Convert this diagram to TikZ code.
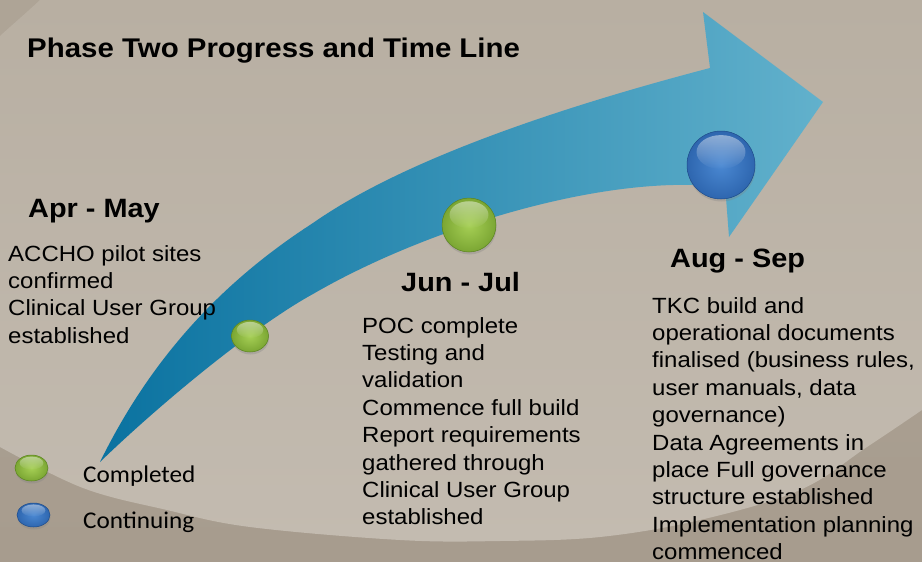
\documentclass[tikz,border=0pt]{standalone}
\usepackage{fontspec}
\setmainfont{Liberation Sans}[FakeStretch=1.09]
\newfontfamily\legendfont{Carlito}[FakeStretch=1.05]
\usetikzlibrary{shapes.geometric,shadows,fadings}
\definecolor{bgdark}{HTML}{A79C8E}
\definecolor{bgcorner}{HTML}{AEA496}
\definecolor{bgtop}{HTML}{B8AFA2}
\definecolor{bgbot}{HTML}{C3BBB0}
\definecolor{arrA}{HTML}{0A72A0}
\definecolor{arrB}{HTML}{3399C6}
\definecolor{arrC}{HTML}{62B1CC}
\definecolor{gIn}{HTML}{A6CF55}
\definecolor{gOut}{HTML}{7BA633}
\definecolor{gRim}{HTML}{5A8420}
\definecolor{bIn}{HTML}{4A88D2}
\definecolor{bOut}{HTML}{2E66AF}
\definecolor{bRim}{HTML}{1E4C8A}
\newcommand\glint[3]{\fill[white,fill opacity=0.45,path fading=south] ([yshift={0.38*#3}]#1.center) ellipse [x radius={0.72*#2}, y radius={0.5*#3}];}
\tikzset{
  ttl/.style={anchor=base west, inner sep=0pt, font=\fontsize{27}{32}\selectfont\bfseries},
  hdr/.style={anchor=base west, inner sep=0pt, font=\fontsize{26.5}{32}\selectfont\bfseries},
  body/.style={anchor=base west, inner sep=0pt, font=\fontsize{22}{27.4}\selectfont},
  lgd/.style={anchor=base west, inner sep=0pt, font=\legendfont\fontsize{24}{29}\selectfont},
  ballbase/.style={ellipse, inner sep=0pt, shading=radial, line width=0.5pt,
    drop shadow={opacity=0.3, shadow xshift=0.5pt, shadow yshift=-2.5pt}},
  greenball/.style={ballbase, inner color=gIn, outer color=gOut, draw=gRim},
  blueball/.style={ballbase, inner color=bIn, outer color=bOut, draw=bRim},
}
\begin{document}
\begin{tikzpicture}[x=1pt,y=-1pt]
\useasboundingbox (0,0) rectangle (922,562);
% background
\shade[top color=bgcorner, bottom color=bgdark] (0,0) rectangle (922,562);
\shade[top color=bgtop, bottom color=bgbot]
  (40,0) .. controls (25,14) and (12,25) .. (0,36) -- (0,447)
  -- plot[smooth, tension=0.6] coordinates {(0,447) (83,488) (167,510) (250,527) (400,540) (500,541) (600,537) (700,520) (800,490) (867,447) (922,410)}
  -- (922,0) -- cycle;
% arrow
\shade[left color=arrA, middle color=arrB, right color=arrC]
  (100,462) .. controls (150,360) and (220,283) .. (313,223)
  .. controls (410,155) and (580,102) .. (710,68)
  -- (703,12) -- (823,102) -- (729,237) -- (725,185) -- (693,185)
  .. controls (580,182) and (420,232) .. (313,294)
  .. controls (253,327) and (160,404) .. (100,462)
  -- cycle;
% balls on the arrow
\node[greenball, minimum width=37pt, minimum height=32pt] (b1) at (250,336) {};
\glint{b1}{18.5pt}{16pt}
\node[greenball, minimum width=54pt, minimum height=54pt] (b2) at (469,225) {};
\glint{b2}{27pt}{27pt}
\node[blueball, minimum width=68pt, minimum height=68pt] (b3) at (721,165) {};
\glint{b3}{34pt}{34pt}
% title
\node[ttl] (title) at (27,57) {Phase Two Progress and Time Line};
% headings
\node[hdr] (h1) at (28,217) {Apr - May};
\node[hdr] (h2) at (401,291) {Jun - Jul};
\node[hdr] (h3) at (670,267) {Aug - Sep};
% bodies
\node[body] (t1) at (8,261) {\begin{tabular}[t]{@{}l@{}}ACCHO pilot sites\\confirmed\\Clinical User Group\\established\end{tabular}};
\node[body] (t2) at (362,333) {\begin{tabular}[t]{@{}l@{}}POC complete\\Testing and\\validation\\Commence full build\\Report requirements\\gathered through\\Clinical User Group\\established\end{tabular}};
\node[body] (t3) at (652,313) {\begin{tabular}[t]{@{}l@{}}TKC build and\\operational documents\\finalised (business rules,\\user manuals, data\\governance)\\Data Agreements in\\place Full governance\\structure established\\Implementation planning\\commenced\end{tabular}};
% legend
\node[greenball, minimum width=33pt, minimum height=26pt] (lg) at (31.5,468) {};
\glint{lg}{16.5pt}{13pt}
\node[blueball, minimum width=33pt, minimum height=24pt] (lb) at (33.5,515) {};
\glint{lb}{16.5pt}{12pt}
\node[lgd] (lgt) at (83,482) {Completed};
\node[lgd] (lbt) at (83,528) {Continuing};
\end{tikzpicture}
\end{document}
